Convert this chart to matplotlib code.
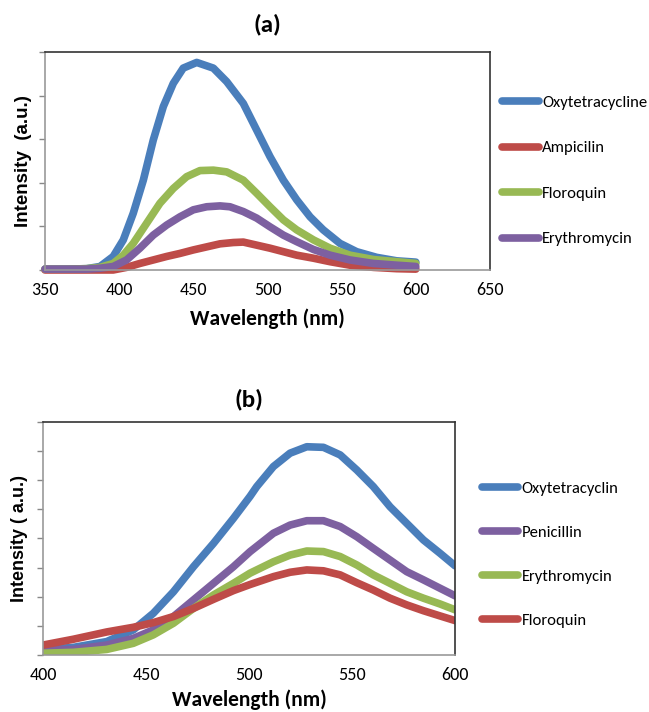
import matplotlib
matplotlib.use("Agg")
import matplotlib.pyplot as plt
import numpy as np
import logging
logging.getLogger("matplotlib.font_manager").setLevel(logging.ERROR)

# ---------- Panel (a) data ----------
a_oxy_wl = [350, 365, 378, 387.1, 396, 402.8, 409.5, 416.3, 423, 429.8, 436.5, 443.2, 452.3, 463.5, 472.5,
            483.7, 492.7, 501.7, 510.7, 519.7, 528.7, 537.6, 548.9, 560.1, 573.6, 587.1, 600]
a_oxy_int = [0.02, 0.02, 0.03, 0.08, 0.31, 0.69, 1.30, 2.06, 2.98, 3.75, 4.28, 4.63, 4.76, 4.63, 4.32,
             3.82, 3.21, 2.60, 2.06, 1.61, 1.22, 0.92, 0.61, 0.42, 0.29, 0.21, 0.18]

a_amp_wl = [350, 370, 388, 396, 405, 414, 423, 432, 441, 450, 459, 468, 477, 483.7, 492.7, 501.7,
            510.7, 519.7, 531, 542.2, 555.6, 571.4, 587.1, 600]
a_amp_int = [0.0, 0.0, 0.0, 0.0, 0.06, 0.15, 0.23, 0.31, 0.38, 0.46, 0.53, 0.60, 0.63, 0.64, 0.57, 0.50,
             0.42, 0.34, 0.27, 0.19, 0.11, 0.06, 0.03, 0.02]

a_flo_wl = [350, 365, 378, 387.1, 396, 402.8, 409.5, 418.5, 427.5, 436.5, 445.5, 454.5, 463.5, 472.5,
            483.7, 492.7, 501.7, 510.7, 519.7, 531, 542.2, 555.6, 571.4, 587.1, 600]
a_flo_int = [0.02, 0.02, 0.03, 0.06, 0.15, 0.34, 0.61, 1.07, 1.53, 1.87, 2.14, 2.28, 2.29, 2.25,
             2.06, 1.76, 1.45, 1.15, 0.92, 0.69, 0.50, 0.34, 0.24, 0.19, 0.15]

a_ery_wl = [350, 365, 378, 387.1, 396, 405, 414, 423, 432, 441, 450, 459, 468, 474.7, 483.7, 492.7,
            501.7, 510.7, 519.7, 531, 542.2, 555.6, 571.4, 587.1, 600]
a_ery_int = [0.02, 0.02, 0.02, 0.04, 0.08, 0.23, 0.50, 0.80, 1.03, 1.22, 1.38, 1.45, 1.47, 1.45, 1.34, 1.19,
             0.99, 0.80, 0.65, 0.47, 0.34, 0.23, 0.15, 0.11, 0.08]

a_labels = ["Oxytetracycline", "Ampicilin", "Floroquin", "Erythromycin"]
a_xticks = [350, 400, 450, 500, 550, 600, 650]

# ---------- Panel (b) data ----------
b_oxy_wl = [400, 414.7, 430.9, 443.8, 453.5, 463.3, 473, 482.7, 492.4, 500.5, 503.7, 511.8, 519.9, 528,
            536.1, 544.2, 552.3, 560.3, 568.4, 576.5, 584.6, 592.7, 600]
b_oxy_int = [0.19, 0.26, 0.46, 0.86, 1.43, 2.17, 3.03, 3.83, 4.69, 5.45, 5.78, 6.47, 6.93, 7.15,
             7.13, 6.87, 6.35, 5.78, 5.09, 4.52, 3.95, 3.49, 3.06]

b_pen_wl = [400, 414.7, 430.9, 443.8, 453.5, 463.3, 473, 482.7, 492.4, 500.5, 511.8, 519.9, 528,
            536.1, 544.2, 552.3, 560.3, 568.4, 576.5, 584.6, 592.7, 600]
b_pen_int = [0.17, 0.19, 0.34, 0.57, 0.86, 1.32, 1.89, 2.46, 3.03, 3.55, 4.18, 4.46, 4.61,
             4.61, 4.41, 4.06, 3.66, 3.26, 2.86, 2.58, 2.29, 2.03]

b_ery_wl = [400, 414.7, 430.9, 443.8, 453.5, 463.3, 473, 482.7, 492.4, 500.5, 511.8, 519.9, 528,
            536.1, 544.2, 552.3, 560.3, 568.4, 576.5, 584.6, 592.7, 600]
b_ery_int = [0.06, 0.09, 0.19, 0.40, 0.69, 1.09, 1.60, 2.06, 2.46, 2.81, 3.20, 3.43, 3.57,
             3.55, 3.38, 3.09, 2.75, 2.46, 2.17, 1.95, 1.75, 1.55]

b_flo_wl = [400, 414.7, 430.9, 443.8, 453.5, 463.3, 473, 482.7, 492.4, 500.5, 511.8, 519.9, 528,
            536.1, 544.2, 552.3, 560.3, 568.4, 576.5, 584.6, 592.7, 600]
b_flo_int = [0.34, 0.54, 0.79, 0.95, 1.11, 1.32, 1.60, 1.91, 2.21, 2.42, 2.69, 2.84, 2.92,
             2.89, 2.75, 2.48, 2.23, 1.95, 1.72, 1.52, 1.34, 1.18]

b_labels = ["Oxytetracyclin", "Penicillin", "Erythromycin", "Floroquin"]
b_xticks = [400, 450, 500, 550, 600]

BLUE = "#4A7EBB"
RED = "#BE4B48"
GREEN = "#98B954"
PURPLE = "#7D60A0"

NARROW = ["Carlito", "Liberation Sans Narrow", "Source Sans 3", "DejaVu Sans"]
ARIAL = ["Liberation Sans", "DejaVu Sans"]

fig = plt.figure(figsize=(6.49, 7.12), dpi=100)


def style_axes(ax, xlim, ylim, nyt, xticks):
    ax.set_xlim(*xlim)
    ax.set_ylim(*ylim)
    ax.set_xticks(xticks)
    ax.set_xticklabels([str(t) for t in xticks], family=NARROW, fontsize=13)
    ax.set_yticks(np.linspace(ylim[0], ylim[1], nyt + 1))
    ax.set_yticklabels([])
    ax.tick_params(axis="x", length=0, pad=9)
    ax.tick_params(axis="y", length=4, width=1, color="#888888", direction="out")
    for s in ("left", "bottom"):
        ax.spines[s].set_color("#999999")
        ax.spines[s].set_linewidth(1.2)
    for s in ("top", "right"):
        ax.spines[s].set_color("#333333")
        ax.spines[s].set_linewidth(1.2)


LW = 5.5
KW = dict(lw=LW, solid_capstyle="round", solid_joinstyle="round")

# Panel (a)
ax1 = fig.add_axes([0.0693, 0.6208, 0.6857, 0.3062])
l1, = ax1.plot(a_oxy_wl, a_oxy_int, color=BLUE, **KW)
l2, = ax1.plot(a_amp_wl, a_amp_int, color=RED, **KW)
l3, = ax1.plot(a_flo_wl, a_flo_int, color=GREEN, **KW)
l4, = ax1.plot(a_ery_wl, a_ery_int, color=PURPLE, **KW)
for l in (l1, l2, l3, l4):
    l.set_clip_on(False)
style_axes(ax1, (350, 650), (0, 5), 5, a_xticks)
ax1.set_title("(a)", fontsize=18, fontweight="bold", family=NARROW, pad=15)
ax1.set_xlabel("Wavelength (nm)", fontsize=15.5, fontweight="bold", family=NARROW, labelpad=7)
ax1.set_ylabel("Intensity  (a.u.)", fontsize=13.5, fontweight="bold", family=ARIAL, labelpad=2)
fig.legend([l1, l2, l3, l4], a_labels, loc="center left",
           bbox_to_anchor=(0.774, 0.76), frameon=False,
           prop={"family": NARROW, "size": 12},
           handlelength=2.2, handletextpad=0.2, labelspacing=1.85,
           borderpad=0, borderaxespad=0)

# Panel (b)
ax2 = fig.add_axes([0.0663, 0.0801, 0.635, 0.3272])
m1, = ax2.plot(b_oxy_wl, b_oxy_int, color=BLUE, **KW)
m2, = ax2.plot(b_pen_wl, b_pen_int, color=PURPLE, **KW)
m3, = ax2.plot(b_ery_wl, b_ery_int, color=GREEN, **KW)
m4, = ax2.plot(b_flo_wl, b_flo_int, color=RED, **KW)
style_axes(ax2, (400, 600), (0, 8), 8, b_xticks)
ax2.set_title("(b)", fontsize=18, fontweight="bold", family=NARROW, pad=11)
ax2.set_xlabel("Wavelength (nm)", fontsize=15.5, fontweight="bold", family=NARROW, labelpad=4)
ax2.set_ylabel("Intensity ( a.u.)", fontsize=13, fontweight="bold", family=ARIAL, labelpad=3)
fig.legend([m1, m2, m3, m4], b_labels, loc="center left",
           bbox_to_anchor=(0.742, 0.2212), frameon=False,
           prop={"family": NARROW, "size": 12},
           handlelength=2.2, handletextpad=0.2, labelspacing=1.75,
           borderpad=0, borderaxespad=0)

fig.savefig("out.png", dpi=100)
